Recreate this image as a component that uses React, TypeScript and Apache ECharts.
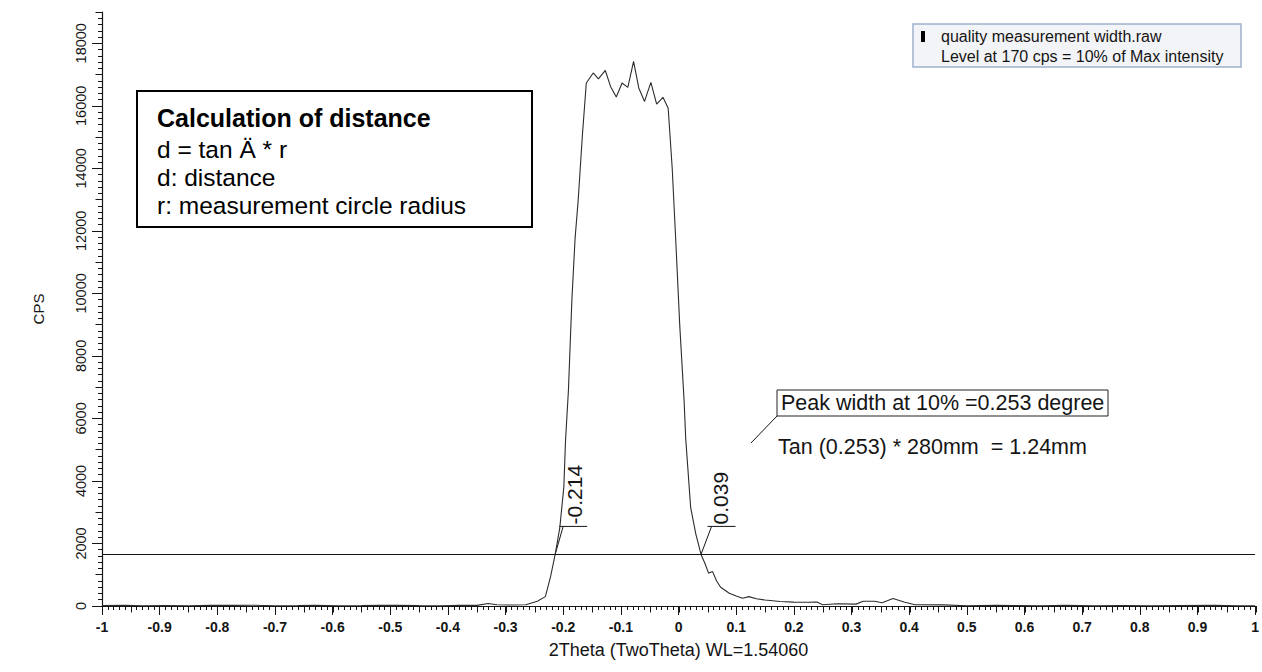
import React, { useEffect, useRef } from "react";
import * as echarts from "echarts";

// Diffraction scan around the direct beam: 2Theta offset (deg) vs. counts per second
const theta2: number[] = [
  -1.0, -0.96, -0.93, -0.89, -0.85, -0.81, -0.77, -0.74, -0.7, -0.66, -0.63, -0.59, -0.55, -0.52,
  -0.49, -0.45, -0.41, -0.38, -0.35, -0.33, -0.315, -0.29, -0.265, -0.245, -0.231, -0.222, -0.214,
  -0.206, -0.199, -0.196, -0.191, -0.185, -0.1795, -0.174, -0.167, -0.16, -0.148, -0.139, -0.127,
  -0.118, -0.108, -0.098, -0.088, -0.078, -0.069, -0.059, -0.048, -0.038, -0.027, -0.018, -0.011,
  -0.005, 0.002, 0.0095, 0.0125, 0.021, 0.03, 0.039, 0.046, 0.052, 0.059, 0.066, 0.073, 0.088, 0.1,
  0.111, 0.122, 0.135, 0.15, 0.176, 0.2, 0.224, 0.24, 0.25, 0.275, 0.308, 0.32, 0.34, 0.353, 0.372,
  0.391, 0.41, 0.46, 0.5, 0.55, 0.58, 0.63, 0.67, 0.72, 0.77, 0.82, 0.87, 0.93, 0.97, 1.0,
];
const cps: number[] = [
  15, 25, 10, 15, 10, 25, 20, 25, 10, 15, 25, 10, 15, 20,
  25, 15, 10, 25, 20, 80, 40, 30, 40, 150, 300, 940, 1650,
  2500, 3800, 5300, 6900, 9800, 11750, 13000, 15000, 16730, 17050, 16860, 17130,
  16620, 16280, 16730, 16590, 17420, 16570, 16140, 16750, 16050, 16270, 15920, 14000,
  11750, 9000, 6610, 5330, 3150, 2300, 1650, 1350, 1050, 1100, 800, 600, 410, 320,
  250, 300, 230, 190, 143, 125, 119, 125, 40, 70, 60, 150, 150, 105, 240,
  130, 40, 35, 10, 20, 15, 10, 20, 10, 15, 10, 15, 20, 10, 10,
];

// Level used for the width measurement and the two crossing positions
const level = 1650;
const crossings: number[] = [-0.214, 0.039];
const crossingLabels: string[] = ["-0.214", "0.039"];

// Axis ticks
const yTickValues: number[] = [0, 2000, 4000, 6000, 8000, 10000, 12000, 14000, 16000, 18000];
const yMax = 19000;
const xMin = -1;
const xMax = 1;

const seriesName = "quality measurement width.raw";
const legendNote = "Level at 170 cps = 10% of Max intensity";
const calcTitle = "Calculation of distance";
const calcLines: string[] = ["d = tan \u00c4 * r", "d: distance", "r: measurement circle radius"];
const widthNote = "Peak width at 10% =0.253 degree";
const tanNote = "Tan (0.253) * 280mm  = 1.24mm";

const FONT = "'Liberation Sans', Arial, Helvetica, sans-serif";
const INK = "#151515";

export default function App() {
  const ref = useRef<HTMLDivElement>(null);

  useEffect(() => {
    if (!ref.current) return;
    const chart = echarts.init(ref.current, null, { renderer: "svg" });

    const gridBox = { left: 102, right: 6, top: 12, bottom: 66 };
    // Extra axes that only contribute medium and minor tick marks
    const tickOnly = (length: number) => ({
      axisLine: { show: false, onZero: false },
      axisLabel: { show: false },
      splitLine: { show: false },
      axisTick: { show: true, length, lineStyle: { color: INK, width: 1 } },
    });

    const option: any = {
      animation: false,
      backgroundColor: "#ffffff",
      grid: [{ ...gridBox }, { ...gridBox }, { ...gridBox }],
      xAxis: [
        {
          gridIndex: 0,
          type: "value",
          min: xMin,
          max: xMax,
          interval: 0.1,
          axisLine: { show: true, onZero: false, lineStyle: { color: INK, width: 1.2 } },
          axisTick: { show: true, length: 9, lineStyle: { color: INK, width: 1 } },
          axisLabel: {
            margin: 14,
            color: INK,
            fontFamily: FONT,
            fontSize: 14,
            fontWeight: "bold",
            formatter: (v: number) => String(Math.round(v * 10) / 10),
          },
          splitLine: { show: false },
          name: "2Theta (TwoTheta) WL=1.54060",
          nameLocation: "middle",
          nameGap: 35,
          nameTextStyle: { color: INK, fontFamily: FONT, fontSize: 18 },
        },
        { gridIndex: 1, type: "value", min: xMin, max: xMax, interval: 0.05, ...tickOnly(6.5) },
        { gridIndex: 2, type: "value", min: xMin, max: xMax, interval: 0.01, ...tickOnly(4) },
      ],
      yAxis: [
        {
          gridIndex: 0,
          type: "value",
          min: 0,
          max: yMax,
          interval: 2000,
          axisLine: { show: true, onZero: false, lineStyle: { color: INK, width: 1.2 } },
          axisTick: { show: true, length: 10, customValues: yTickValues, lineStyle: { color: INK, width: 1 } },
          axisLabel: {
            rotate: 90,
            margin: 14,
            color: INK,
            fontFamily: FONT,
            fontSize: 14.5,
            customValues: yTickValues,
            formatter: (v: number) => String(Math.round(v)),
          },
          splitLine: { show: false },
          name: "CPS",
          nameLocation: "middle",
          nameGap: 56,
          nameTextStyle: { color: INK, fontFamily: FONT, fontSize: 15 },
        },
        { gridIndex: 1, type: "value", min: 0, max: yMax, interval: 1000, ...tickOnly(6.5) },
        { gridIndex: 2, type: "value", min: 0, max: yMax, interval: 200, ...tickOnly(4) },
      ],
      series: [
        {
          name: seriesName,
          type: "line",
          xAxisIndex: 0,
          yAxisIndex: 0,
          data: theta2.map((t, i) => [t, cps[i]]),
          showSymbol: false,
          symbol: "none",
          lineStyle: { color: "#2d2d2d", width: 1.1 },
          silent: true,
          markLine: {
            silent: true,
            symbol: ["none", "none"],
            label: { show: false },
            lineStyle: { color: INK, width: 1, type: "solid" },
            data: [{ yAxis: level }],
          },
        },
      ],
    };

    chart.setOption(option);

    // Callouts for the two crossings of the level line, anchored in data space
    const lineStyle = { stroke: INK, lineWidth: 1 };
    const callouts: any[] = [];
    crossings.forEach((cx, i) => {
      const p = chart.convertToPixel({ gridIndex: 0 }, [cx, level]) as number[];
      const dx = i === 0 ? 8 : 10.5;
      const top = [p[0] + dx, p[1] - 28];
      callouts.push({
        type: "line",
        silent: true,
        shape: { x1: p[0], y1: p[1], x2: top[0], y2: top[1] },
        style: lineStyle,
      });
      callouts.push({
        type: "line",
        silent: true,
        shape: { x1: top[0] - 4, y1: top[1], x2: top[0] + 24, y2: top[1] },
        style: lineStyle,
      });
      callouts.push({
        type: "text",
        silent: true,
        x: p[0] + 19.5,
        y: top[1] - 2,
        rotation: Math.PI / 2,
        style: {
          text: crossingLabels[i],
          fill: INK,
          font: `21px ${FONT}`,
          textAlign: "left",
          textVerticalAlign: "middle",
        },
      });
    });

    const legend = {
      type: "group",
      silent: true,
      children: [
        {
          type: "rect",
          shape: { x: 913, y: 24, width: 328, height: 43 },
          style: { fill: "#f3f4f7", stroke: "#9fb0cc", lineWidth: 1.5 },
        },
        {
          type: "rect",
          shape: { x: 921, y: 31, width: 4, height: 11 },
          style: { fill: "#000" },
        },
        {
          type: "text",
          x: 941,
          y: 36,
          style: { text: seriesName, fill: INK, font: `16px ${FONT}`, textVerticalAlign: "middle" },
        },
        {
          type: "text",
          x: 941,
          y: 56,
          style: { text: legendNote, fill: INK, font: `16px ${FONT}`, textVerticalAlign: "middle" },
        },
      ],
    };

    const calcBox = {
      type: "group",
      silent: true,
      children: [
        {
          type: "rect",
          shape: { x: 137, y: 91, width: 395, height: 136 },
          style: { fill: "#ffffff", stroke: "#000", lineWidth: 2 },
        },
        {
          type: "text",
          x: 157,
          y: 118,
          style: {
            text: calcTitle,
            fill: "#000",
            font: `bold 25px ${FONT}`,
            textVerticalAlign: "middle",
          },
        },
        ...calcLines.map((t, i) => ({
          type: "text",
          x: 157,
          y: 149 + i * 28,
          style: { text: t, fill: "#000", font: `24.5px ${FONT}`, textVerticalAlign: "middle" },
        })),
      ],
    };

    const widthBox = {
      type: "group",
      silent: true,
      children: [
        {
          type: "rect",
          shape: { x: 777, y: 390, width: 331, height: 26 },
          style: { fill: "#ffffff", stroke: "#222", lineWidth: 1 },
        },
        {
          type: "text",
          x: 781,
          y: 403,
          style: { text: widthNote, fill: INK, font: `21.5px ${FONT}`, textVerticalAlign: "middle" },
        },
        {
          type: "line",
          shape: { x1: 777, y1: 416, x2: 751, y2: 443 },
          style: lineStyle,
        },
        {
          type: "text",
          x: 778,
          y: 447,
          style: { text: tanNote, fill: INK, font: `21.5px ${FONT}`, textVerticalAlign: "middle" },
        },
      ],
    };

    chart.setOption({ graphic: [...callouts, legend, calcBox, widthBox] });

    return () => chart.dispose();
  }, []);

  return (
    <div
      ref={ref}
      style={{ position: "fixed", left: 0, top: 0, width: 1262, height: 672, background: "#fff" }}
    />
  );
}
